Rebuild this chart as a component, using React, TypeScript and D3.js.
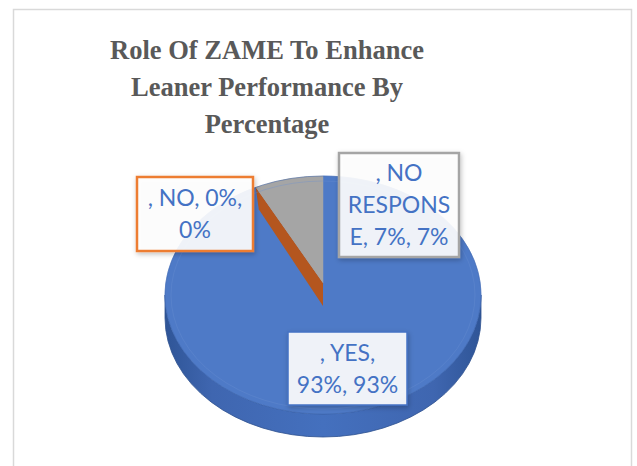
import React from "react";
import * as d3 from "d3";

const categories = ["YES", "NO", "NO RESPONSE"];
const values = [93, 0, 7];
const sliceColors = ["#4E7AC7", "#ED7D31", "#A5A5A5"];
const borderColors = ["#4472C4", "#ED7D31", "#A5A5A5"];
const labelLines = [
  [", YES,", "93%, 93%"],
  [", NO, 0%,", "0%"],
  [", NO", "RESPONS", "E, 7%, 7%"],
];
const titleLines = ["Role Of ZAME To Enhance", "Leaner Performance By", "Percentage"];

// label boxes (x, y, w, h)
const labelBoxes = [
  { x: 288, y: 332, w: 119, h: 73 },
  { x: 137, y: 177, w: 116, h: 74 },
  { x: 339, y: 153, w: 120, h: 104 },
];

export default function App() {
  const W = 637, H = 466;
  const cx = 323, cy = 295, rx = 158, ry = 119, depth = 23;
  const apex = { x: 323, y: 283 };

  const pie = d3.pie<number>().sort(null).startAngle(0).endAngle(2 * Math.PI);
  const arcs = pie(values);

  const rim = (a: number, dy = 0) => ({
    x: cx + rx * Math.sin(a),
    y: cy - ry * Math.cos(a) + dy,
  });

  const slicePath = (a0: number, a1: number) => {
    const p0 = rim(a0), p1 = rim(a1);
    const large = a1 - a0 > Math.PI ? 1 : 0;
    const path = d3.path();
    path.moveTo(apex.x, apex.y);
    path.lineTo(p0.x, p0.y);
    return path.toString() + ` A ${rx} ${ry} 0 ${large} 1 ${p1.x} ${p1.y} Z`;
  };

  const sideWall =
    `M ${cx - rx} ${cy} A ${rx} ${ry} 0 0 0 ${cx + rx} ${cy} ` +
    `L ${cx + rx} ${cy + depth} A ${rx} ${ry} 0 0 1 ${cx - rx} ${cy + depth} Z`;

  const noArc = arcs[1];
  const wr = rim(noArc.startAngle);
  const orangeWall = d3.path();
  orangeWall.moveTo(wr.x, wr.y);
  orangeWall.lineTo(apex.x, apex.y);
  orangeWall.lineTo(apex.x, apex.y + depth);
  orangeWall.lineTo(wr.x + 3, wr.y + depth - 1);
  orangeWall.closePath();

  return (
    <svg
      width={W}
      height={H}
      style={{ position: "absolute", left: 0, top: 0, background: "#fff" }}
    >
      <defs>
        <linearGradient id="sideGrad" x1="0" x2="1" y1="0" y2="0">
          <stop offset="0" stopColor="#2F5597" />
          <stop offset="0.15" stopColor="#3F66B0" />
          <stop offset="0.5" stopColor="#4470BE" />
          <stop offset="0.85" stopColor="#3F66B0" />
          <stop offset="1" stopColor="#2F5597" />
        </linearGradient>
        <filter id="shadow" x="-20%" y="-20%" width="140%" height="140%">
          <feDropShadow dx="1" dy="2" stdDeviation="2.5" floodColor="#000" floodOpacity="0.25" />
        </filter>
      </defs>
      <rect x={13.5} y={9.5} width={618} height={470} fill="#fff" stroke="#D9D9D9" strokeWidth={1.5} />

      <g transform="translate(267,0) scale(0.965,1)">
        {titleLines.map((t, i) => (
          <text
            key={i}
            x={0}
            y={59 + i * 37}
            textAnchor="middle"
            fontFamily="'Liberation Serif', 'Times New Roman', serif"
            fontWeight="bold"
            fontSize={27.5}
            fill="#595959"
          >
            {t}
          </text>
        ))}
      </g>

      <path d={sideWall} fill="url(#sideGrad)" stroke="#2F528F" strokeWidth={0.8} />
      {arcs.map((a, i) =>
        a.endAngle - a.startAngle > 0 ? (
          <path
            key={categories[i]}
            d={slicePath(a.startAngle, a.endAngle)}
            fill={sliceColors[i]}
            stroke={sliceColors[i]}
            strokeWidth={0.5}
          />
        ) : null
      )}
      <path d={orangeWall.toString()} fill="#B4561F" />
      <path d={slicePath(arcs[2].startAngle, arcs[2].endAngle)} fill={sliceColors[2]} />
      <ellipse cx={cx} cy={cy} rx={rx - 6} ry={ry - 5} fill="none" stroke="#6A8FD0" strokeOpacity={0.35} strokeWidth={1} />
      <ellipse cx={cx} cy={cy} rx={rx} ry={ry} fill="none" stroke="#3A62AC" strokeOpacity={0.6} strokeWidth={0.8} />

      {labelBoxes.map((b, i) => (
        <g key={categories[i]}>
          <rect
            x={b.x}
            y={b.y}
            width={b.w}
            height={b.h}
            fill="#fff"
            fillOpacity={0.9}
            stroke={borderColors[i]}
            strokeWidth={i === 0 ? 1.5 : 2.5}
            filter="url(#shadow)"
          />
          {labelLines[i].map((l, j) => {
            const n = labelLines[i].length;
            const lh = 32;
            const cyText = b.y + b.h / 2 + (j - (n - 1) / 2) * lh;
            return (
              <text
                key={j}
                x={b.x + b.w / 2}
                y={cyText}
                dy="0.35em"
                textAnchor="middle"
                fontFamily="Lato, 'Open Sans', sans-serif"
                fontSize={23}
                fill="#4472C4"
              >
                {l}
              </text>
            );
          })}
        </g>
      ))}
    </svg>
  );
}
